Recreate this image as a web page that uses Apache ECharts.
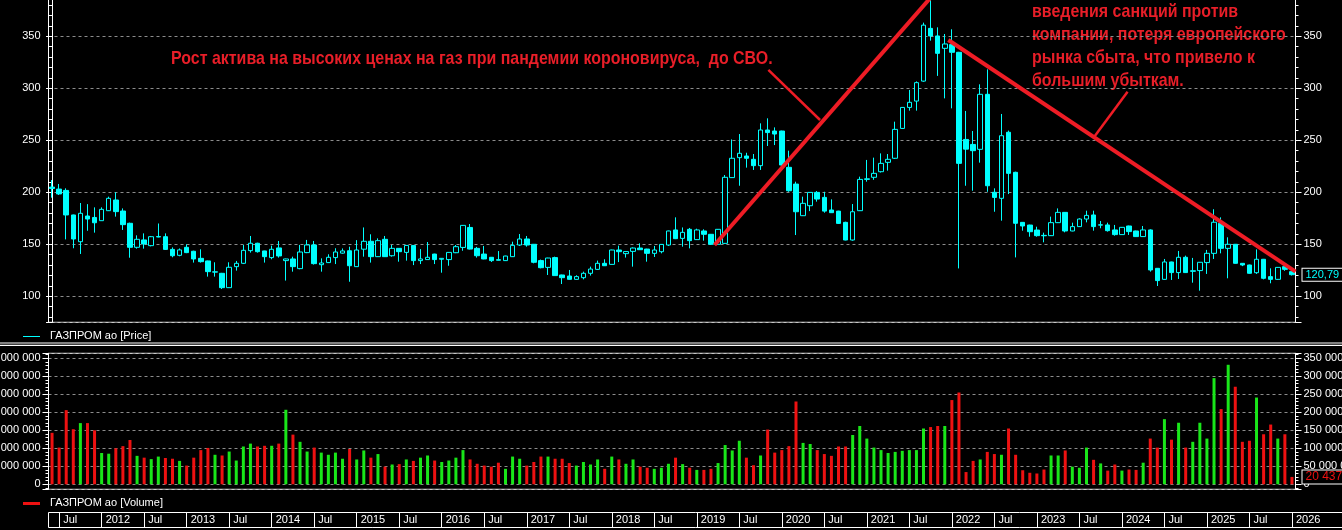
<!DOCTYPE html>
<html><head><meta charset="utf-8">
<script src="https://cdn.jsdelivr.net/npm/echarts@6/dist/echarts.min.js"></script>
<style>html,body{margin:0;padding:0;background:#000;overflow:hidden}#c{width:1342px;height:530px}</style>
</head><body><div id="c"></div>
<script>
// Months: June 2011 ... January 2026
const startYear = 2011, startMonth = 6, monthCount = 176;
const categories = [];
for (let k = 0; k < monthCount; k++) {
  const m = startMonth - 1 + k;
  const y = startYear + Math.floor(m / 12);
  const mm = (m % 12) + 1;
  categories.push(y + '-' + (mm < 10 ? '0' : '') + mm);
}

const opens = [205,203.1,201.8,178.2,152.5,177.2,175.8,172.7,182.3,192.6,
182,170.2,147.1,154.2,148.7,157,157.3,145.1,139.4,147.1,
143.3,136.5,134,123.2,122.1,108.3,128.5,131.7,143.9,151,
143.6,137.2,146.5,134.3,135.9,126.6,142,149.4,130.4,132.4,
137.2,141.5,143.8,128.5,145.3,152.9,138.1,154.8,139,146.1,
142.2,148.9,134.3,135.3,140.6,135.6,135.3,141.9,147,166.2,
146.1,140.6,137.5,135.2,134.3,138.1,149.3,155.1,150,134.3,
127.8,137.2,120.5,119.5,116.3,117.9,122.1,125.9,131.7,130.7,
144.5,141,143.2,146.4,145.4,141.3,142.9,149.3,163.8,155.7,
164.4,154.5,162.8,159.6,150,150.9,214.1,233.3,234.9,231.7,
225.6,259.9,258.9,258.9,224,207.9,177.5,187.1,199.9,195.1,
183,181.9,171.1,154.1,182.3,212.4,214.4,219.8,228.8,232.7,
261.4,281.6,287.7,306.9,357.6,350.3,338.4,342,334.6,250.8,
246,241.3,294.2,200,194.2,257.7,219.2,171.1,168.5,163.7,
158.6,158.3,170.8,180.7,162.8,167,174.3,178.2,168.4,168.6,
163.8,159.3,167.6,162.8,157.4,163.8,126.9,116.3,133,122.8,
137.5,124,124.7,132.4,141.3,170.2,146.1,150,131.7,130.1,
122.7,135.6,118.9,116.3,128.5,123.7];

const closes = [203.6,198.4,178.2,155.1,179.8,174.3,170.7,183.6,194.2,181.4,
168.9,147.1,154.8,150.3,157.3,157.5,145.1,139,144.6,142,
135.9,133.3,123.7,123.6,108.3,127.9,131.7,144.2,151,142.9,
138.1,145.2,138.8,135.9,128.5,142.6,149.4,131.4,132,137.5,
142.6,143.6,129.4,144.5,152.9,138.1,153.5,138.1,146.1,142.9,
148.9,134.3,135.9,137.5,135.3,136.5,142.2,147.7,168.2,145.4,
139,135.9,134.3,134.7,138.7,149,155.1,149.3,132.7,127.5,
136.8,119.9,117.9,116.3,118.9,122.1,126.2,131.7,129.4,144.5,
142.9,143,146.4,144.8,141.3,144.5,149.9,162.8,155.4,161.5,
153.5,163.8,159.6,150,164.4,214.4,232.7,237.5,232.7,225.6,
259.9,257.4,256,226.2,201.5,181.3,189.4,199.9,193.5,181.9,
180.4,170.1,154.1,181.3,212.4,213,218.2,227.8,231.7,260.5,
281.6,286.5,305.4,360.7,350.3,333.6,342.6,334.6,227.8,241.5,
240,294.2,206.3,195.1,254.4,218.2,170.2,167.6,162.1,158.3,
158.2,170.8,180.7,162.8,167,174.3,177.8,167,168.8,163.1,
159.3,166.3,162.2,157.4,163.8,125.3,115.1,133,122.8,137.5,
122.8,124.6,132.7,141.3,171.2,146.1,150,131.7,130.1,122.1,
135.6,117.3,116.3,127.8,125.9,120.79];

const highs = [211.8,208,203.8,178.5,189.7,188.6,185.5,185.5,195.8,200,
184.5,170.8,158.6,160.5,158,170,160.5,147,146,150,
143.8,145.2,134.3,132.7,122.5,132.7,134,149.4,158,151.5,
143.8,148.7,153.2,136.2,138.1,149.4,154.2,153.2,136.5,140.4,
146.2,146,147.7,154,166.2,159.6,155.7,158,149.3,146.4,
149.2,149.2,145.4,152.2,140.9,136.8,142.5,149.3,168.5,169.5,
147.5,148.4,137.8,143.5,139,152.5,159.9,158,150.3,135.3,
137,138.1,120.8,125.3,120.2,123.7,128.5,134.3,135.6,144.8,
148.7,143.2,147,150.9,145.7,148.4,150.2,163.1,175.9,166.2,
165.7,165,164.4,159.9,164.7,216.6,250.8,256,238,236.8,
266.3,271.1,262.4,259.2,240,210.2,195.8,200.2,201.2,200.5,
193.2,182.2,171.7,188.7,215,231.1,233.3,237.4,236.8,267.9,
281.9,298.4,306.6,363.1,390,358.6,352.2,356.7,335,278.2,
258.9,303.8,318.2,203.8,275.3,259.3,219.8,171.4,168.8,166.9,
161.2,176.6,184.5,181,170.8,175,182.3,182.3,172.4,170.8,
168.6,166.6,167.9,163.1,167.6,164.4,127.2,135.9,133.3,143.6,
139.1,136.9,133,144.6,183.7,175.9,156.7,150.3,132,130.4,
145.1,135.9,126.9,128.1,129.5,124];

const lows = [194.8,197.4,154.7,146.2,140.7,163,161.2,172.7,182,176.6,
163.8,137.1,145.8,145.8,148,156.7,144.5,137.5,138.5,141.5,
132.4,132.4,118.9,118.9,107,108,124.7,131,142,142,
132.4,135.6,137.2,115.1,123.7,126,141.5,130.5,123.7,132,
131,141,114,128.3,138.1,132.4,137.8,137.8,138.1,133.3,
134.3,130,131,135,131,122.7,129.4,141.5,143.8,145,
137.2,135.6,133,134.5,134,137.8,148.4,147.7,131.7,126.9,
120.5,119.9,111.8,116,116,116.3,119.9,125.3,129.1,130.4,
132.9,137.2,128.5,144.5,133.3,137.8,141.3,148.4,155,147.7,
146.1,154.2,153.5,149.4,149.4,150.6,213.8,206.3,223.7,221.5,
221.5,244.5,245.4,225.6,200.5,158.9,177.2,181.9,191,180.4,
180.1,169.5,153.8,153.5,182,210.2,212,219,220.8,232,
261,278.5,278.5,306.3,345.8,311.9,290.3,280.7,126.8,206.3,
201.5,228.5,200.5,181.3,172.7,198.3,137.4,163.1,157.3,157.3,
151.9,158,170.5,161.5,162.5,166.7,171.1,163.1,165.4,162.2,
158.3,159,159,157,157.1,123.7,109.9,116,115.7,116.7,
122.5,113.1,105.4,121.5,135.9,141.3,117.3,131.4,129,121.8,
121.5,116.3,112.5,116,124.5,120];

// volume, millions of shares
const volumes = [143,102,206,153,170,170,150,87,85,100,
106,123,79,74,70,77,73,71,65,52,
74,95,101,82,80,91,66,105,113,105,
107,107,113,207,138,118,91,102,88,82,
88,71,98,69,94,74,84,49,55,56,
69,65,74,80,66,62,66,74,95,69,
57,52,49,60,43,77,71,52,62,77,
77,71,71,59,52,62,55,69,43,77,
69,57,69,49,46,43,46,57,74,56,
46,40,40,43,59,109,94,121,74,53,
80,152,88,95,106,230,115,112,95,84,
79,105,105,137,162,127,102,95,87,90,
93,95,95,155,159,162,162,234,255,34,
65,69,90,84,82,155,82,39,32,30,
41,80,80,94,49,46,102,68,58,38,
55,38,41,40,60,127,102,181,124,171,
102,118,171,127,295,209,332,271,118,121,
241,139,166,127,139,20.437];

const lastPrice = 120.79, lastPriceLabel = '120,79';
const lastVolume = 20.437, lastVolumeLabel = '20 437 154';

// hand-drawn annotation lines, in (month index, price) units
const upTrend = [[93.5, 149.3], [126, 402.8]];
const downTrend = [[126.5, 346.4], [175.5, 123.7]];
const pointer1 = [[101.1, 317.6], [108.4, 269.5]];
const pointer2 = [[151.8, 296.7], [147.1, 253.5]];

const note1 = 'Рост актива на высоких ценах на газ при пандемии короновируса,  до СВО.';
const note2 = 'введения санкций против\nкомпании, потеря европейского\nрынка сбыта, что привело к\nбольшим убыткам.';
const priceLegend = 'ГАЗПРОМ ао [Price]';
const volumeLegend = 'ГАЗПРОМ ао [Volume]';

const CYAN = '#00ffff', GREEN = '#19e619', RED = '#ee1111', NOTE = '#e81e28', LINE = '#ee1c25';
const FONT = 'Liberation Sans';
const GRIDC = '#8c8c8c';

const candleData = opens.map((o, i) => [o, closes[i], lows[i], highs[i]]);
const volData = volumes.map((v, i) => ({ value: v, itemStyle: { color: closes[i] >= opens[i] ? GREEN : RED } }));

const G = { left: 48.5, width: 1247 };

function yAx(grid, pos, min, max, step, fmt, split) {
  return {
    type: 'value', gridIndex: grid, position: pos, min: min, max: max,
    minInterval: step, maxInterval: step,
    axisLine: { show: true, lineStyle: { color: '#fff', width: 1 } },
    axisTick: { show: true, length: 6, lineStyle: { color: '#fff' } },
    minorTick: { show: true, splitNumber: 5, length: 3, lineStyle: { color: '#fff' } },
    splitLine: { show: split, lineStyle: { color: GRIDC, type: [3, 3], width: 1 } },
    axisLabel: { color: '#fff', fontSize: 11, fontFamily: FONT, margin: 8, showMinLabel: false, showMaxLabel: false, formatter: fmt }
  };
}
const priceFmt = v => String(v);
const volFmt = v => (v === 0 ? '0' : v + ' 000 000');
const isHalf = (idx, val) => { const m = String(val).slice(5); return m === '01' || m === '07'; };

function lastLabel(text, color, size) {
  return { silent: true, symbol: ['none', 'none'], animation: false,
    lineStyle: { width: 0, color: 'rgba(0,0,0,0)' },
    label: { show: true, position: 'end', distance: 7, formatter: text, color: color, fontSize: size, fontFamily: FONT,
      borderColor: '#fff', borderWidth: 1, padding: [1, 3, 0, 3], backgroundColor: '#000' } };
}

const gridBase = { left: G.left, width: G.width, outerBoundsMode: 'none', containLabel: false };
const chart = echarts.init(document.getElementById('c'), null, { renderer: 'canvas' });
chart.setOption({
  backgroundColor: '#000',
  animation: false,
  grid: [
    Object.assign({ top: -2, height: 324.3, show: true, borderColor: '#fff', borderWidth: 1 }, gridBase),
    Object.assign({ top: 353.3, height: 136, show: true, borderColor: '#fff', borderWidth: 1 }, gridBase),
    Object.assign({ top: 512, height: 15.5, show: false }, gridBase)
  ],
  xAxis: [
    { type: 'category', gridIndex: 0, data: categories, show: false },
    { type: 'value', gridIndex: 0, min: -0.5, max: monthCount - 0.5, show: false },
    { type: 'category', gridIndex: 1, data: categories, show: false },
    { type: 'category', gridIndex: 2, data: categories, position: 'bottom',
      axisLine: { show: false },
      axisTick: { show: true, inside: true, length: 15.5, alignWithLabel: true, interval: isHalf, lineStyle: { color: '#fff', width: 1 } },
      axisLabel: { show: true, inside: true, interval: isHalf, align: 'left', verticalAlign: 'middle', margin: 7.75,
        padding: [0, 0, 0, 4], color: '#fff', fontSize: 11, fontFamily: FONT,
        formatter: v => (v.slice(5) === '01' ? v.slice(0, 4) : 'Jul') } }
  ],
  yAxis: [
    yAx(0, 'left', 75, 386.8, 50, priceFmt, true),
    yAx(0, 'right', 75, 386.8, 50, priceFmt, false),
    yAx(1, 'left', -13.9, 363.9, 50, volFmt, true),
    yAx(1, 'right', -13.9, 363.9, 50, volFmt, false),
    { type: 'value', gridIndex: 2, show: false, min: 0, max: 1 }
  ],
  series: [
    { type: 'candlestick', xAxisIndex: 0, yAxisIndex: 0, data: candleData, barWidth: 5, clip: false,
      itemStyle: { color: '#000', color0: CYAN, borderColor: CYAN, borderColor0: CYAN, borderWidth: 1 },
      markLine: Object.assign({ data: [{ yAxis: lastPrice }] }, lastLabel(lastPriceLabel, CYAN, 11)) },
    { type: 'bar', xAxisIndex: 2, yAxisIndex: 2, data: volData, barWidth: 3, clip: false,
      markLine: Object.assign({ data: [{ yAxis: lastVolume }] }, lastLabel(lastVolumeLabel, RED, 12)) },
    { type: 'line', xAxisIndex: 1, yAxisIndex: 0, data: upTrend, symbol: 'none', clip: true, lineStyle: { color: LINE, width: 4 }, z: 5 },
    { type: 'line', xAxisIndex: 1, yAxisIndex: 0, data: downTrend, symbol: 'none', clip: true, lineStyle: { color: LINE, width: 4 }, z: 5 },
    { type: 'line', xAxisIndex: 1, yAxisIndex: 0, data: pointer1, symbol: 'none', clip: true, lineStyle: { color: LINE, width: 2.5 }, z: 5 },
    { type: 'line', xAxisIndex: 1, yAxisIndex: 0, data: pointer2, symbol: 'none', clip: true, lineStyle: { color: LINE, width: 2.5 }, z: 5 }
  ],
  graphic: [
    { type: 'text', x: 171, y: 58.7, scaleX: 0.84, z: 10,
      style: { text: note1, font: 'bold 19px "Liberation Sans"', fill: NOTE, align: 'left', verticalAlign: 'middle' } },
    { type: 'text', x: 1032, y: 0, scaleX: 0.84, z: -1,
      style: { text: note2, font: 'bold 19px "Liberation Sans"', lineHeight: 23, fill: NOTE, align: 'left', verticalAlign: 'top' } },
    { type: 'line', shape: { x1: 23, y1: 336.5, x2: 40, y2: 336.5 }, style: { stroke: CYAN, lineWidth: 1 } },
    { type: 'text', x: 50, y: 336, style: { text: priceLegend, font: '11px "Liberation Sans"', fill: '#fff', verticalAlign: 'middle' } },
    { type: 'rect', shape: { x: 0, y: 342.5, width: 1342, height: 1 }, style: { fill: '#fff' } },
    { type: 'rect', shape: { x: 0, y: 344.7, width: 1342, height: 1.3 }, style: { fill: '#fff' } },
    { type: 'line', shape: { x1: 23, y1: 503.5, x2: 40, y2: 503.5 }, style: { stroke: RED, lineWidth: 3 } },
    { type: 'text', x: 50, y: 503, style: { text: volumeLegend, font: '11px "Liberation Sans"', fill: '#fff', verticalAlign: 'middle' } },
    { type: 'rect', shape: { x: 48.5, y: 512.5, width: 1300, height: 15 }, style: { fill: 'none', stroke: '#fff', lineWidth: 1 } }
  ]
});
</script></body></html>
